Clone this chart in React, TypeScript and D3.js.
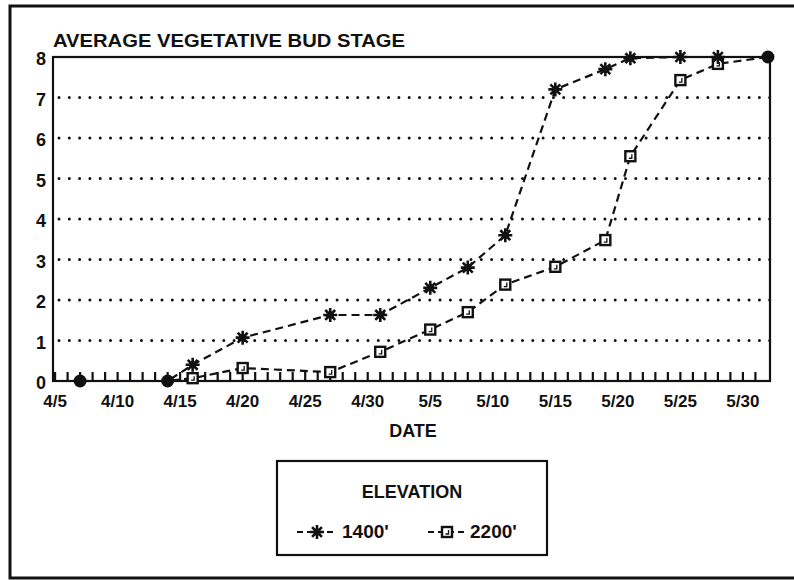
import { useEffect, useRef } from "react";
import * as d3 from "d3";

// sampling dates (month/day) and average bud stage per elevation
const dates = ["4/7", "4/14", "4/16", "4/20", "4/27", "5/1", "5/5", "5/8", "5/11", "5/15", "5/19", "5/21", "5/25", "5/28", "6/1"];
const stage1400 = [0, 0, 0.4, 1.07, 1.63, 1.63, 2.3, 2.8, 3.6, 7.2, 7.7, 7.97, 8, 8, 8];
const stage2200 = [0, 0, 0.07, 0.32, 0.22, 0.72, 1.27, 1.7, 2.38, 2.82, 3.48, 5.55, 7.43, 7.83, 8];
const xTickLabels = ["4/5", "4/10", "4/15", "4/20", "4/25", "4/30", "5/5", "5/10", "5/15", "5/20", "5/25", "5/30"];
const yTicks = [0, 1, 2, 3, 4, 5, 6, 7, 8];

const FONT = "'Liberation Sans', Arial, Helvetica, sans-serif";

function toDate(md: string) {
    const [m, d] = md.split("/").map(Number);
    return new Date(1990, m - 1, d);
}

function starPath(r: number) {
    let p = "";
    for (let i = 0; i < 4; i++) {
        const a = (i * Math.PI) / 4;
        const dx = Math.cos(a) * r, dy = Math.sin(a) * r;
        p += `M${-dx},${-dy}L${dx},${dy}`;
    }
    return p;
}

export default function App() {
    const svgEl = useRef<SVGSVGElement>(null);

    useEffect(() => {
        const svg = d3.select(svgEl.current);
        svg.selectChildren().remove();

        const left = 53, right = 770, top = 57, bottom = 381;
        const start = toDate("4/5"), end = toDate("6/1");
        const x = d3.scaleTime()
            .domain([d3.timeHour.offset(start, -4), d3.timeHour.offset(end, 4)])
            .range([left, right]);
        const y = d3.scaleLinear().domain([0, 8]).range([bottom, top]);

        // outer frame (right side cut off)
        svg.append("path")
            .attr("d", `M794,6H10V578H794`)
            .attr("fill", "none").attr("stroke", "#111").attr("stroke-width", 3);

        // title
        svg.append("text")
            .attr("x", left).attr("y", 47)
            .attr("font-family", FONT).attr("font-weight", "bold").attr("font-size", 18)
            .attr("textLength", 352).attr("lengthAdjust", "spacingAndGlyphs")
            .attr("fill", "#111")
            .text("AVERAGE VEGETATIVE BUD STAGE");

        // dotted grid
        svg.append("g").selectAll("line").data(yTicks.filter(v => v > 0 && v < 8)).join("line")
            .attr("x1", left + 6).attr("x2", right)
            .attr("y1", d => y(d)).attr("y2", d => y(d))
            .attr("stroke", "#111").attr("stroke-width", 3)
            .attr("stroke-linecap", "round").attr("stroke-dasharray", "0 10.3");

        // plot frame
        svg.append("rect")
            .attr("x", left).attr("y", top).attr("width", right - left).attr("height", bottom - top)
            .attr("fill", "none").attr("stroke", "#111").attr("stroke-width", 2.2);

        // y labels
        svg.append("g").selectAll("text").data(yTicks).join("text")
            .attr("x", 46).attr("y", d => y(d) + 2)
            .attr("text-anchor", "end").attr("dominant-baseline", "central")
            .attr("font-family", FONT).attr("font-weight", "bold").attr("font-size", 18)
            .attr("fill", "#111")
            .text(d => d);

        // daily ticks
        const days = d3.timeDay.range(start, end);
        svg.append("g").selectAll("line").data(days).join("line")
            .attr("x1", d => x(d)).attr("x2", d => x(d))
            .attr("y1", bottom).attr("y2", bottom - 9)
            .attr("stroke", "#111").attr("stroke-width", 2.2);

        // x labels
        svg.append("g").selectAll("text").data(xTickLabels).join("text")
            .attr("x", d => x(toDate(d))).attr("y", 407)
            .attr("text-anchor", "middle")
            .attr("font-family", FONT).attr("font-weight", "bold").attr("font-size", 17)
            .attr("fill", "#111")
            .text(d => d);

        svg.append("text")
            .attr("x", 413).attr("y", 437).attr("text-anchor", "middle")
            .attr("font-family", FONT).attr("font-weight", "bold").attr("font-size", 18)
            .attr("fill", "#111")
            .text("DATE");

        const line = d3.line<number>()
            .x((_, i) => x(toDate(dates[i])))
            .y(d => y(d));

        const series = [
            { name: "1400'", values: stage1400, marker: "star" },
            { name: "2200'", values: stage2200, marker: "square" },
        ];

        series.forEach(s => {
            svg.append("path")
                .attr("d", line(s.values))
                .attr("fill", "none").attr("stroke", "#111").attr("stroke-width", 2.2)
                .attr("stroke-dasharray", "8 5");
        });

        const drawMarker = (g: any, kind: string) => {
            if (kind === "star") {
                g.append("path").attr("d", starPath(7))
                    .attr("stroke", "#111").attr("stroke-width", 2.6).attr("fill", "none");
                g.append("circle").attr("r", 3.5).attr("fill", "#111");
            } else {
                g.append("rect").attr("x", -5).attr("y", -5).attr("width", 10).attr("height", 10)
                    .attr("fill", "#fff").attr("stroke", "#111").attr("stroke-width", 2.4);
                g.append("path").attr("d", "M1.5,-2V2H-1.5")
                    .attr("fill", "none").attr("stroke", "#111").attr("stroke-width", 1.3);
            }
        };

        const shared = dates.map((_, i) => stage1400[i] === stage2200[i]);
        series.slice().reverse().forEach(s => {
            s.values.forEach((v, i) => {
                if (shared[i]) return;
                const g = svg.append("g")
                    .attr("transform", `translate(${x(toDate(dates[i]))},${y(v)})`);
                drawMarker(g, s.marker);
            });
        });
        svg.append("g").selectAll("circle").data(dates.filter((_, i) => shared[i])).join("circle")
            .attr("cx", d => x(toDate(d)))
            .attr("cy", (d) => y(stage1400[dates.indexOf(d)]))
            .attr("r", 6.5).attr("fill", "#111");

        // legend
        const lg = svg.append("g");
        lg.append("rect").attr("x", 277).attr("y", 461).attr("width", 270).attr("height", 94)
            .attr("fill", "none").attr("stroke", "#111").attr("stroke-width", 2.2);
        lg.append("text").attr("x", 412).attr("y", 498).attr("text-anchor", "middle")
            .attr("font-family", FONT).attr("font-weight", "bold").attr("font-size", 18)
            .attr("fill", "#111").text("ELEVATION");
        const items = [
            { s: series[0], x0: 297, x1: 337, tx: 342 },
            { s: series[1], x0: 428, x1: 466, tx: 470 },
        ];
        items.forEach(it => {
            lg.append("line").attr("x1", it.x0).attr("x2", it.x1).attr("y1", 532).attr("y2", 532)
                .attr("stroke", "#111").attr("stroke-width", 2.2).attr("stroke-dasharray", "6 4");
            const g = lg.append("g").attr("transform", `translate(${(it.x0 + it.x1) / 2},532)`);
            drawMarker(g, it.s.marker);
            lg.append("text").attr("x", it.tx).attr("y", 538)
                .attr("font-family", FONT).attr("font-weight", "bold").attr("font-size", 19)
                .attr("fill", "#111").text(it.s.name);
        });
    }, []);

    return <svg ref={svgEl} width={794} height={580}
        style={{ position: "absolute", left: 0, top: 0, background: "#fff" }}>
    </svg>;
}
